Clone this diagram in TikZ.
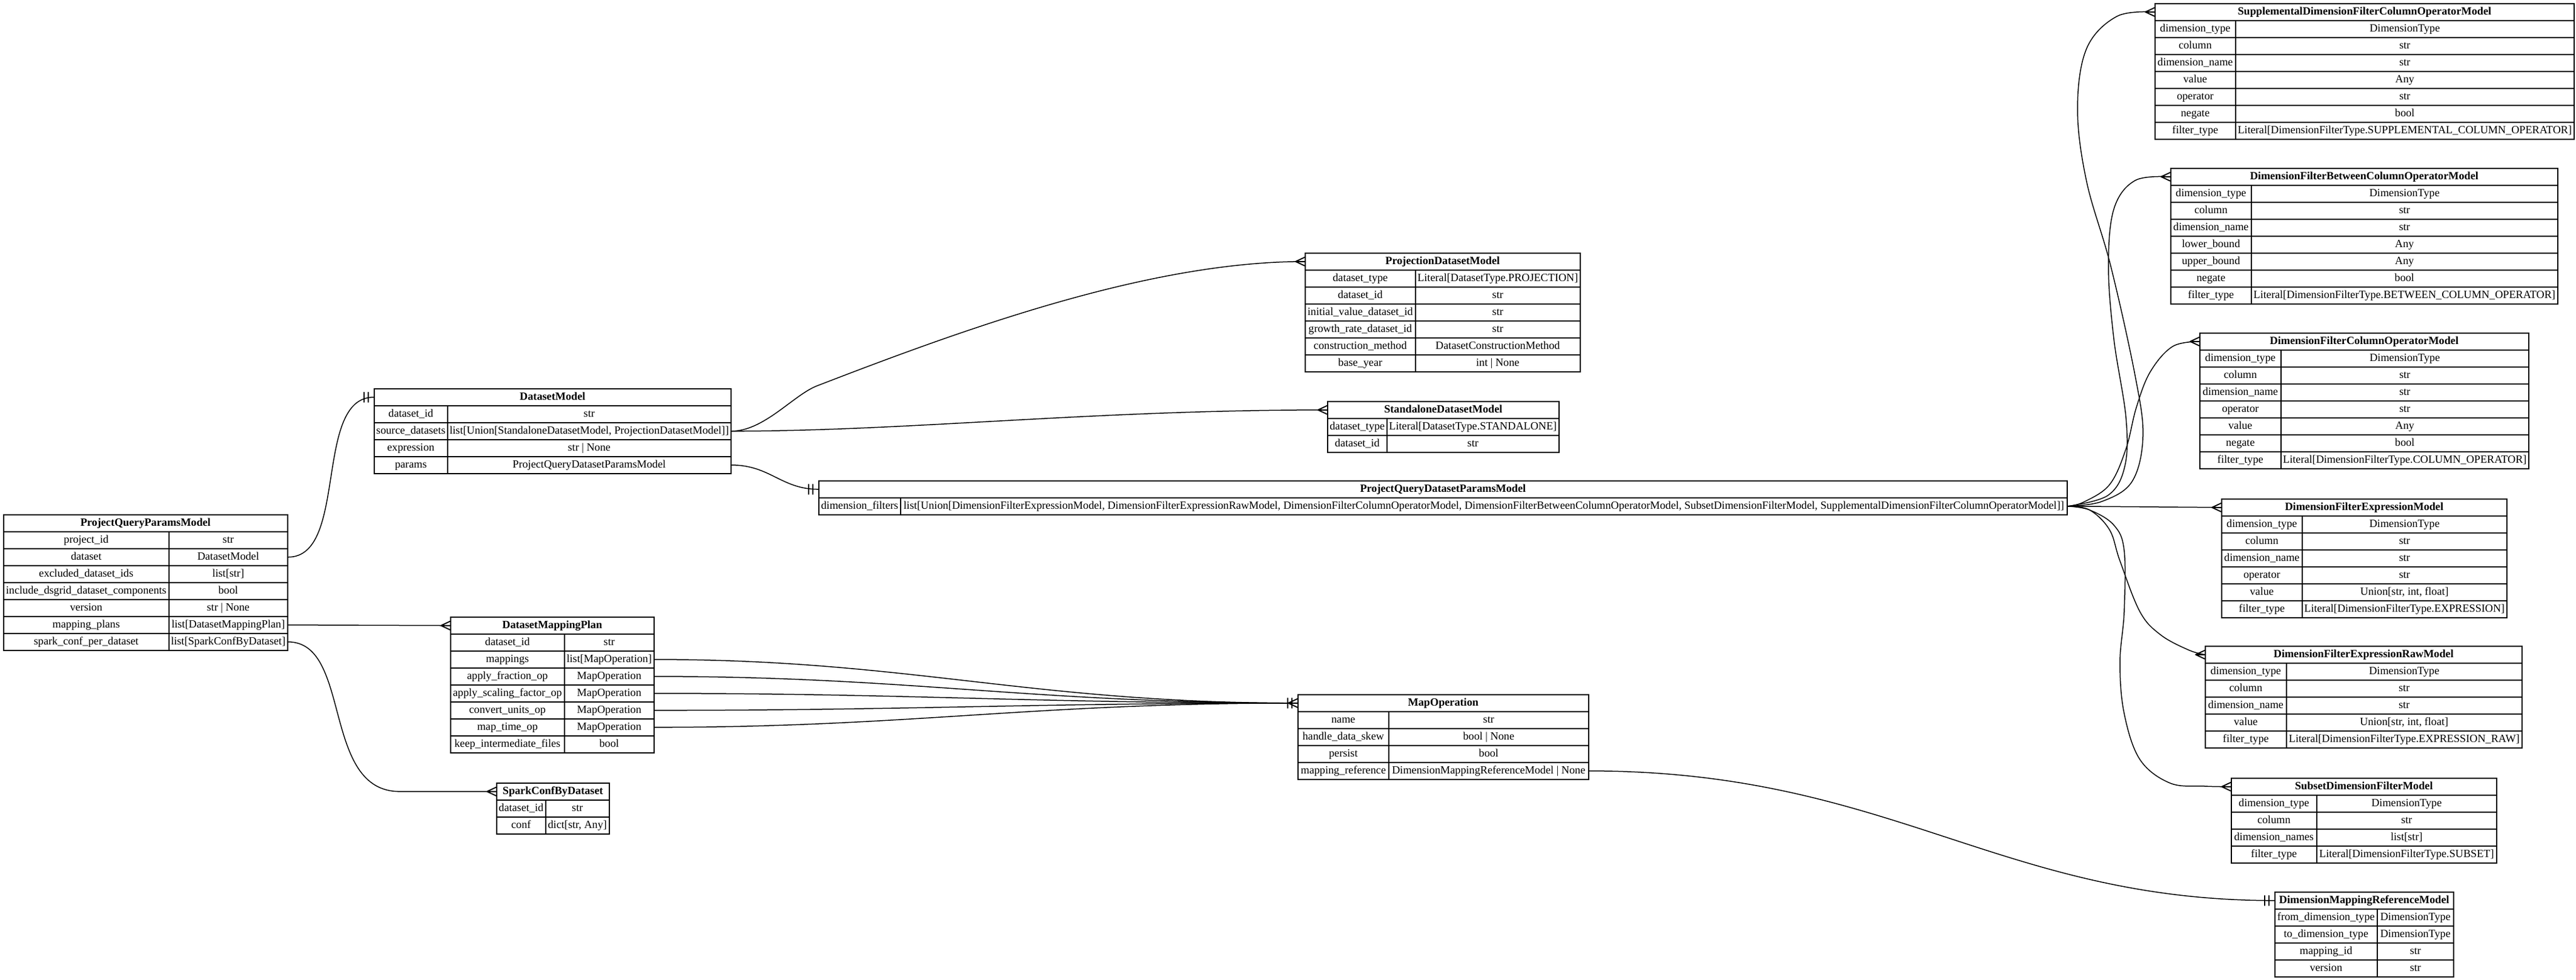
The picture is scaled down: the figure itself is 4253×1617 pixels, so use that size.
\documentclass[tikz,border=0pt]{standalone}
\usepackage{fontspec}
\setmainfont{Liberation Serif}
\usetikzlibrary{calc}
\tikzset{
  cellbox/.style={draw, line width=1.6pt, inner sep=0pt, minimum height=28pt, anchor=north west,
    font=\fontsize{18.2}{21}\selectfont, text height=13.5pt, text depth=3.5pt},
  hdrbox/.style={cellbox, font=\fontsize{18.2}{21}\selectfont\bfseries},
  edge/.style={line width=1.5pt, line cap=round, line join=round},
  markline/.style={line width=1.9pt, line cap=round, line join=round},
}
\newcommand\ertable[6]{\def\tx{#2}\def\ty{#3}\def\tkw{#4}\def\tvw{#5}\def\tname{#1}%
  \node[hdrbox, minimum width=#4+#5] (#1-h) at (#2,#3) {#6};}
\newcommand\errow[3]{%
  \node[cellbox, minimum width=\tkw] (\tname-k#1) at (\tx,\ty+28*#1) {#2};
  \node[cellbox, minimum width=\tvw] (\tname-v#1) at (\tx+\tkw,\ty+28*#1) {#3};}
\newcommand\crowmark[1]{\draw[markline] ($(#1)+(-15,0)$) -- ($(#1)+(0,-7)$) ($(#1)+(-15,0)$) -- ($(#1)+(0,7)$) ($(#1)+(-15,0)$) -- (#1);}
\newcommand\teemark[1]{\draw[markline] ($(#1)+(-9,-8)$) -- ($(#1)+(-9,8)$) ($(#1)+(-16,-8)$) -- ($(#1)+(-16,8)$);}
\begin{document}
\begin{tikzpicture}[x=1pt,y=-1pt]
\useasboundingbox (0,0) rectangle (4253,1617);
\fill[white] (0,0) rectangle (4253,1617);

% ---------------- tables ----------------
\ertable{PQPM}{5}{849}{273}{196}{ProjectQueryParamsModel}
\errow{1}{project\_id}{str}
\errow{2}{dataset}{DatasetModel}
\errow{3}{excluded\_dataset\_ids}{list[str]}
\errow{4}{include\_dsgrid\_dataset\_components}{bool}
\errow{5}{version}{str | None}
\errow{6}{mapping\_plans}{list[DatasetMappingPlan]}
\errow{7}{spark\_conf\_per\_dataset}{list[SparkConfByDataset]}

\ertable{DM}{617}{641}{121}{468}{DatasetModel}
\errow{1}{dataset\_id}{str}
\errow{2}{source\_datasets}{list[Union[StandaloneDatasetModel, ProjectionDatasetModel]]}
\errow{3}{expression}{str | None}
\errow{4}{params}{ProjectQueryDatasetParamsModel}

\ertable{DMP}{743}{1018}{188}{148}{DatasetMappingPlan}
\errow{1}{dataset\_id}{str}
\errow{2}{mappings}{list[MapOperation]}
\errow{3}{apply\_fraction\_op}{MapOperation}
\errow{4}{apply\_scaling\_factor\_op}{MapOperation}
\errow{5}{convert\_units\_op}{MapOperation}
\errow{6}{map\_time\_op}{MapOperation}
\errow{7}{keep\_intermediate\_files}{bool}

\ertable{SCBD}{819}{1292}{81}{105}{SparkConfByDataset}
\errow{1}{dataset\_id}{str}
\errow{2}{conf}{dict[str, Any]}

\ertable{PDM}{2154}{417}{182}{272}{ProjectionDatasetModel}
\errow{1}{dataset\_type}{Literal[DatasetType.PROJECTION]}
\errow{2}{dataset\_id}{str}
\errow{3}{initial\_value\_dataset\_id}{str}
\errow{4}{growth\_rate\_dataset\_id}{str}
\errow{5}{construction\_method}{DatasetConstructionMethod}
\errow{6}{base\_year}{int | None}

\ertable{SDM}{2191}{662}{98}{284}{StandaloneDatasetModel}
\errow{1}{dataset\_type}{Literal[DatasetType.STANDALONE]}
\errow{2}{dataset\_id}{str}

\ertable{PQDPM}{1351}{793}{135}{1926}{ProjectQueryDatasetParamsModel}
\errow{1}{dimension\_filters}{list[Union[DimensionFilterExpressionModel, DimensionFilterExpressionRawModel, DimensionFilterColumnOperatorModel, DimensionFilterBetweenColumnOperatorModel, SubsetDimensionFilterModel, SupplementalDimensionFilterColumnOperatorModel]]}

\ertable{MO}{2142}{1146}{150}{330}{MapOperation}
\errow{1}{name}{str}
\errow{2}{handle\_data\_skew}{bool | None}
\errow{3}{persist}{bool}
\errow{4}{mapping\_reference}{DimensionMappingReferenceModel | None}

\ertable{SDFCOM}{3557}{5}{133}{559}{SupplementalDimensionFilterColumnOperatorModel}
\errow{1}{dimension\_type}{DimensionType}
\errow{2}{column}{str}
\errow{3}{dimension\_name}{str}
\errow{4}{value}{Any}
\errow{5}{operator}{str}
\errow{6}{negate}{bool}
\errow{7}{filter\_type}{Literal[DimensionFilterType.SUPPLEMENTAL\_COLUMN\_OPERATOR]}

\ertable{DFBCOM}{3583}{277}{133}{506}{DimensionFilterBetweenColumnOperatorModel}
\errow{1}{dimension\_type}{DimensionType}
\errow{2}{column}{str}
\errow{3}{dimension\_name}{str}
\errow{4}{lower\_bound}{Any}
\errow{5}{upper\_bound}{Any}
\errow{6}{negate}{bool}
\errow{7}{filter\_type}{Literal[DimensionFilterType.BETWEEN\_COLUMN\_OPERATOR]}

\ertable{DFCOM}{3631}{549}{134}{409}{DimensionFilterColumnOperatorModel}
\errow{1}{dimension\_type}{DimensionType}
\errow{2}{column}{str}
\errow{3}{dimension\_name}{str}
\errow{4}{operator}{str}
\errow{5}{value}{Any}
\errow{6}{negate}{bool}
\errow{7}{filter\_type}{Literal[DimensionFilterType.COLUMN\_OPERATOR]}

\ertable{DFEM}{3667}{823}{133}{338}{DimensionFilterExpressionModel}
\errow{1}{dimension\_type}{DimensionType}
\errow{2}{column}{str}
\errow{3}{dimension\_name}{str}
\errow{4}{operator}{str}
\errow{5}{value}{Union[str, int, float]}
\errow{6}{filter\_type}{Literal[DimensionFilterType.EXPRESSION]}

\ertable{DFERM}{3640}{1066}{134}{389}{DimensionFilterExpressionRawModel}
\errow{1}{dimension\_type}{DimensionType}
\errow{2}{column}{str}
\errow{3}{dimension\_name}{str}
\errow{4}{value}{Union[str, int, float]}
\errow{5}{filter\_type}{Literal[DimensionFilterType.EXPRESSION\_RAW]}

\ertable{SDFM}{3683}{1284}{141}{297}{SubsetDimensionFilterModel}
\errow{1}{dimension\_type}{DimensionType}
\errow{2}{column}{str}
\errow{3}{dimension\_names}{list[str]}
\errow{4}{filter\_type}{Literal[DimensionFilterType.SUBSET]}

\ertable{DMRM}{3755}{1472}{169}{126}{DimensionMappingReferenceModel}
\errow{1}{from\_dimension\_type}{DimensionType}
\errow{2}{to\_dimension\_type}{DimensionType}
\errow{3}{mapping\_id}{str}
\errow{4}{version}{str}

% ---------------- connectors ----------------
\draw[edge] (PQPM-v2.east) .. controls +(100,0) and +(-100,0) .. (DM-h.west);
\draw[edge] (PQPM-v6.east) -- (DMP-h.west);
\draw[edge] (PQPM-v7.east) .. controls +(106,0) and +(-130,0) .. ($(SCBD-h.west)+(-159,0)$) -- (SCBD-h.west);

\draw[edge] (DM-v2.east) .. controls +(54,0) and +(-39,15) .. (1349,637)
            .. controls +(251,-97) and +(-254,0) .. (PDM-h.west);
\draw[edge] (DM-v2.east) .. controls +(294,0) and +(-391,0) .. (SDM-h.west);
\draw[edge] (DM-v4.east) .. controls +(64,0) and +(-61,0) .. (PQDPM-h.west);

\foreach \r in {2,...,6}{
  \draw[edge] (DMP-v\r.east) .. controls +(421,0) and +(-442,0) .. (MO-h.west);
}
\draw[edge] (MO-v4.east) .. controls +(498,0) and +(-455,0) .. (DMRM-h.west);

\draw[edge] plot[smooth, tension=0.6] coordinates {(PQDPM-v1.east) (3470,828) (3520,795) (3538,720) (3525,620) (3485,440) (3445,300) (3430,180) (3445,80) (3495,27) (SDFCOM-h.west)};
\draw[edge] plot[smooth, tension=0.6] coordinates {(PQDPM-v1.east) (3480,818) (3508,770) (3510,690) (3490,560) (3481,440) (3490,345) (3525,298) (DFBCOM-h.west)};
\draw[edge] plot[smooth, tension=0.6] coordinates {(PQDPM-v1.east) (3440,829) (3483,800) (3510,741) (3527,673) (3550,614) (3587,572) (DFCOM-h.west)};
\draw[edge] (PQDPM-v1.east) -- (DFEM-h.west);
\draw[edge] plot[smooth, tension=0.6] coordinates {(PQDPM-v1.east) (3450,842) (3483,875) (3500,926) (3533,1010) (3567,1048) (3613,1073) (DFERM-h.west)};
\draw[edge] plot[smooth, tension=0.6] coordinates {(PQDPM-v1.east) (3450,842) (3490,867) (3507,909) (3507,1010) (3500,1094) (3507,1178) (3533,1254) (3583,1293) (3640,1298) (SDFM-h.west)};

% ---------------- end marks ----------------
\teemark{DM-h.west}
\crowmark{DMP-h.west}
\crowmark{SCBD-h.west}
\crowmark{PDM-h.west}
\crowmark{SDM-h.west}
\teemark{PQDPM-h.west}
\teemark{MO-h.west}
\crowmark{MO-h.west}
\teemark{DMRM-h.west}
\crowmark{SDFCOM-h.west}
\crowmark{DFBCOM-h.west}
\crowmark{DFCOM-h.west}
\crowmark{DFEM-h.west}
\crowmark{DFERM-h.west}
\crowmark{SDFM-h.west}
\end{tikzpicture}
\end{document}
